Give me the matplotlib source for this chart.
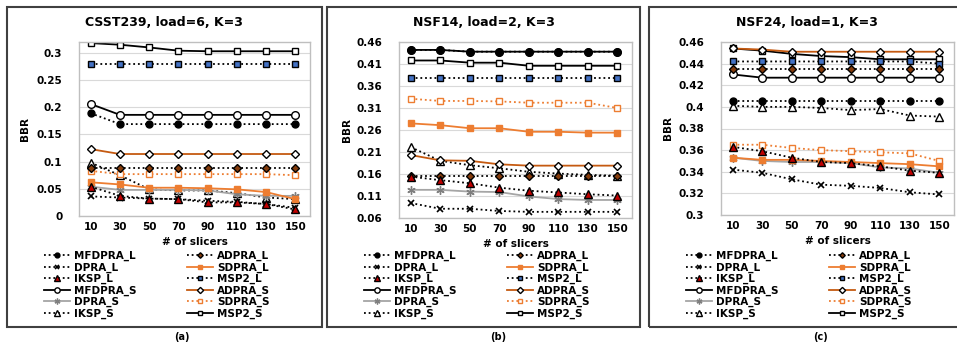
import matplotlib
matplotlib.use("Agg")
import matplotlib.pyplot as plt
from matplotlib.patches import Rectangle

plt.rcParams['font.family'] = ['DejaVu Sans']
plt.rcParams['font.weight'] = 'bold'

slicers = [10, 30, 50, 70, 90, 110, 130, 150]
xtick_labels = [str(s) for s in slicers]

titles = ["CSST239, load=6, K=3", "NSF14, load=2, K=3", "NSF24, load=1, K=3"]
captions = ["(a)", "(b)", "(c)"]

# Panel (a)
a_MFDPRA_L = [0.189, 0.169, 0.169, 0.169, 0.169, 0.169, 0.169, 0.169]
a_ADPRA_L = [0.089, 0.089, 0.089, 0.089, 0.089, 0.089, 0.089, 0.089]
a_DPRA_L = [0.036, 0.034, 0.032, 0.031, 0.028, 0.026, 0.022, 0.015]
a_SDPRA_L = [0.062, 0.058, 0.052, 0.052, 0.051, 0.049, 0.044, 0.031]
a_IKSP_L = [0.054, 0.037, 0.032, 0.031, 0.025, 0.025, 0.022, 0.012]
a_MSP2_L = [0.279, 0.279, 0.279, 0.279, 0.279, 0.279, 0.279, 0.279]
a_MFDPRA_S = [0.206, 0.186, 0.186, 0.186, 0.186, 0.186, 0.186, 0.186]
a_ADPRA_S = [0.123, 0.114, 0.114, 0.114, 0.114, 0.114, 0.114, 0.114]
a_DPRA_S = [0.054, 0.048, 0.048, 0.048, 0.047, 0.040, 0.037, 0.037]
a_SDPRA_S = [0.083, 0.077, 0.077, 0.077, 0.077, 0.077, 0.077, 0.075]
a_IKSP_S = [0.098, 0.075, 0.049, 0.047, 0.047, 0.042, 0.034, 0.031]
a_MSP2_S = [0.318, 0.315, 0.310, 0.304, 0.303, 0.303, 0.303, 0.303]

# Panel (b)
b_MFDPRA_L = [0.442, 0.442, 0.438, 0.438, 0.438, 0.438, 0.438, 0.438]
b_ADPRA_L = [0.155, 0.155, 0.155, 0.155, 0.155, 0.155, 0.155, 0.155]
b_DPRA_L = [0.094, 0.081, 0.081, 0.076, 0.074, 0.074, 0.074, 0.074]
b_SDPRA_L = [0.275, 0.271, 0.264, 0.264, 0.256, 0.256, 0.254, 0.254]
b_IKSP_L = [0.154, 0.146, 0.139, 0.129, 0.122, 0.118, 0.114, 0.111]
b_MSP2_L = [0.379, 0.379, 0.379, 0.379, 0.379, 0.379, 0.379, 0.379]
b_MFDPRA_S = [0.442, 0.442, 0.438, 0.438, 0.438, 0.438, 0.438, 0.438]
b_ADPRA_S = [0.203, 0.191, 0.190, 0.182, 0.179, 0.179, 0.179, 0.179]
b_DPRA_S = [0.124, 0.124, 0.120, 0.119, 0.109, 0.103, 0.101, 0.101]
b_SDPRA_S = [0.331, 0.326, 0.326, 0.325, 0.322, 0.322, 0.322, 0.310]
b_IKSP_S = [0.221, 0.190, 0.180, 0.173, 0.165, 0.161, 0.158, 0.156]
b_MSP2_S = [0.418, 0.418, 0.413, 0.413, 0.406, 0.406, 0.406, 0.406]

# Panel (c)
c_MFDPRA_L = [0.405, 0.405, 0.405, 0.405, 0.405, 0.405, 0.405, 0.405]
c_ADPRA_L = [0.435, 0.435, 0.435, 0.435, 0.435, 0.435, 0.435, 0.435]
c_DPRA_L = [0.342, 0.339, 0.333, 0.328, 0.327, 0.325, 0.321, 0.319]
c_SDPRA_L = [0.353, 0.351, 0.351, 0.350, 0.349, 0.348, 0.347, 0.345]
c_IKSP_L = [0.363, 0.359, 0.353, 0.349, 0.348, 0.345, 0.341, 0.339]
c_MSP2_L = [0.442, 0.442, 0.442, 0.442, 0.442, 0.442, 0.442, 0.440]
c_MFDPRA_S = [0.430, 0.427, 0.427, 0.427, 0.427, 0.427, 0.427, 0.427]
c_ADPRA_S = [0.454, 0.453, 0.451, 0.451, 0.451, 0.451, 0.451, 0.451]
c_DPRA_S = [0.353, 0.350, 0.349, 0.349, 0.348, 0.344, 0.343, 0.339]
c_SDPRA_S = [0.365, 0.365, 0.362, 0.360, 0.359, 0.358, 0.357, 0.350]
c_IKSP_S = [0.401, 0.400, 0.400, 0.399, 0.397, 0.398, 0.392, 0.391]
c_MSP2_S = [0.454, 0.452, 0.449, 0.447, 0.446, 0.444, 0.444, 0.444]

series_names = ["MFDPRA_L", "ADPRA_L", "DPRA_L", "SDPRA_L", "IKSP_L", "MSP2_L",
                "MFDPRA_S", "ADPRA_S", "DPRA_S", "SDPRA_S", "IKSP_S", "MSP2_S"]

panels = [
    dict(zip(series_names, [a_MFDPRA_L, a_ADPRA_L, a_DPRA_L, a_SDPRA_L, a_IKSP_L, a_MSP2_L,
                            a_MFDPRA_S, a_ADPRA_S, a_DPRA_S, a_SDPRA_S, a_IKSP_S, a_MSP2_S])),
    dict(zip(series_names, [b_MFDPRA_L, b_ADPRA_L, b_DPRA_L, b_SDPRA_L, b_IKSP_L, b_MSP2_L,
                            b_MFDPRA_S, b_ADPRA_S, b_DPRA_S, b_SDPRA_S, b_IKSP_S, b_MSP2_S])),
    dict(zip(series_names, [c_MFDPRA_L, c_ADPRA_L, c_DPRA_L, c_SDPRA_L, c_IKSP_L, c_MSP2_L,
                            c_MFDPRA_S, c_ADPRA_S, c_DPRA_S, c_SDPRA_S, c_IKSP_S, c_MSP2_S])),
]

y_ticks = [
    [0, 0.05, 0.1, 0.15, 0.2, 0.25, 0.3],
    [0.06, 0.11, 0.16, 0.21, 0.26, 0.31, 0.36, 0.41, 0.46],
    [0.3, 0.32, 0.34, 0.36, 0.38, 0.4, 0.42, 0.44, 0.46],
]
y_ticklabels = [
    ["0", "0.05", "0.1", "0.15", "0.2", "0.25", "0.3"],
    ["0.06", "0.11", "0.16", "0.21", "0.26", "0.31", "0.36", "0.41", "0.46"],
    ["0.3", "0.32", "0.34", "0.36", "0.38", "0.4", "0.42", "0.44", "0.46"],
]
y_limits = [(0, 0.32), (0.06, 0.46), (0.3, 0.46)]

ORANGE = '#ED7D31'
DOT = (0, (1, 1.6))
styles = {
    "MFDPRA_L": dict(color='black', ls=DOT, marker='o', mfc='black', mec='black', ms=5),
    "ADPRA_L": dict(color='black', ls=DOT, marker='D', mfc='#843C0C', mec='black', ms=4),
    "DPRA_L": dict(color='black', ls=DOT, marker='x', mfc='black', mec='black', ms=5, mew=1.2),
    "SDPRA_L": dict(color=ORANGE, ls='-', marker='s', mfc=ORANGE, mec=ORANGE, ms=5),
    "IKSP_L": dict(color='black', ls=DOT, marker='^', mfc='#C00000', mec='black', ms=5.5),
    "MSP2_L": dict(color='black', ls=DOT, marker='s', mfc='#4472C4', mec='black', ms=5),
    "MFDPRA_S": dict(color='black', ls='-', marker='o', mfc='white', mec='black', ms=5.5),
    "ADPRA_S": dict(color='#C55A11', ls='-', marker='D', mfc='white', mec='black', ms=4.5),
    "DPRA_S": dict(color='#A5A5A5', ls='-', marker=(6, 2, 0), mfc='#A5A5A5', mec='#7F7F7F', ms=6),
    "SDPRA_S": dict(color=ORANGE, ls=DOT, marker='s', mfc='white', mec=ORANGE, ms=5),
    "IKSP_S": dict(color='black', ls=DOT, marker='^', mfc='white', mec='black', ms=5.5),
    "MSP2_S": dict(color='black', ls='-', marker='s', mfc='white', mec='black', ms=5),
}
draw_order = ["MSP2_S", "IKSP_S", "SDPRA_S", "DPRA_S", "ADPRA_S", "MFDPRA_S",
              "MSP2_L", "SDPRA_L", "ADPRA_L", "DPRA_L", "IKSP_L", "MFDPRA_L"]
legend_order = ["MFDPRA_L", "DPRA_L", "IKSP_L", "MFDPRA_S", "DPRA_S", "IKSP_S",
                "ADPRA_L", "SDPRA_L", "MSP2_L", "ADPRA_S", "SDPRA_S", "MSP2_S"]

W, H = 957, 343
fig = plt.figure(figsize=(W / 100, H / 100), dpi=100)

def fx(px):
    return px / W

def fy(py):
    return 1 - py / H

axes_px = [(79, 310, 42, 216), (399, 632, 42, 218), (721, 954, 42, 215)]
frames_px = [(7, 322), (327, 640), (649, 970)]
title_x = [164, 484, 807]
caption_x = [182, 498, 820]
ylabel_x = [25, 347, 668]
legend_x = [44, 364, 686]

for i in range(3):
    l, r, t, b = axes_px[i]
    ax = fig.add_axes([fx(l), fy(b), fx(r - l), (b - t) / H])
    data = panels[i]
    xs = list(range(len(slicers)))
    handles = {}
    for name in draw_order:
        st = styles[name]
        h, = ax.plot(xs, data[name], lw=1.3, label=name, **st)
        handles[name] = h
    ax.set_xlim(-0.4, 7.5)
    ax.set_ylim(*y_limits[i])
    ax.set_xticks(xs)
    ax.set_xticklabels(xtick_labels)
    ax.set_yticks(y_ticks[i])
    ax.set_yticklabels(y_ticklabels[i])
    ax.tick_params(length=0, labelsize=7.5, pad=4)
    ax.tick_params(axis='y', pad=12)
    for lab in ax.get_xticklabels() + ax.get_yticklabels():
        lab.set_fontweight('bold')
    ax.grid(axis='y', color='#D9D9D9', lw=0.8)
    ax.set_axisbelow(True)
    for sp in ax.spines.values():
        sp.set_color('#BFBFBF')
        sp.set_linewidth(1.0)
    ax.set_xlabel("# of slicers", fontsize=7.5, fontweight='bold', labelpad=4)
    fig.text(fx(ylabel_x[i]), fy((t + b) / 2), "BBR", rotation=90, fontsize=7.5,
             fontweight='bold', ha='center', va='center')
    fig.text(fx(title_x[i]), fy(22), titles[i], fontsize=9, fontweight='bold',
             ha='center', va='center')
    fig.text(fx(caption_x[i]), fy(337), captions[i], fontsize=7, fontweight='bold',
             ha='center', va='center')
    leg = fig.legend([handles[n] for n in legend_order], legend_order, ncol=2,
                     loc='upper left', bbox_to_anchor=(fx(legend_x[i]), fy(251)),
                     bbox_transform=fig.transFigure, frameon=False, fontsize=7.5,
                     handlelength=2.5, handletextpad=0.4, columnspacing=4.8,
                     labelspacing=0.12, borderpad=0, borderaxespad=0, markerscale=0.7)
    for txt in leg.get_texts():
        txt.set_fontweight('bold')
    fl, fr = frames_px[i]
    fig.patches.append(Rectangle((fx(fl), fy(327)), fx(fr - fl), (327 - 7) / H,
                                 transform=fig.transFigure, fill=False,
                                 edgecolor='#404040', lw=1.5, zorder=0))

fig.savefig("out.png", dpi=100)
